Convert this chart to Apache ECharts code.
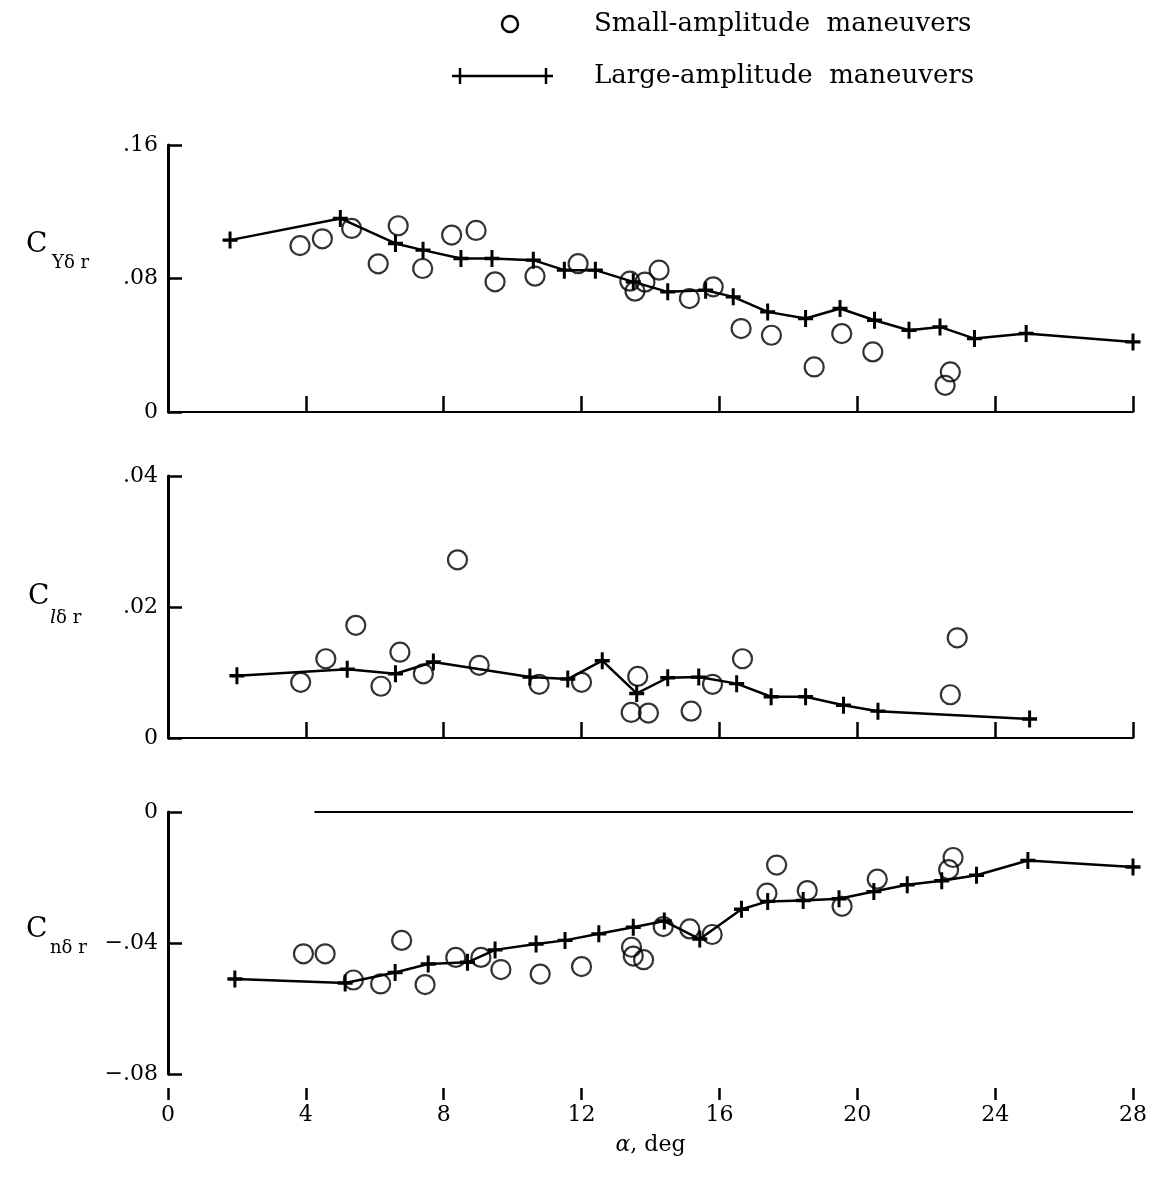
<!DOCTYPE html>
<html><head><meta charset="utf-8">
<script src="https://cdn.jsdelivr.net/npm/echarts@6/dist/echarts.min.js"></script>
<style>html,body{margin:0;padding:0;background:#fff}#c{width:1159px;height:1181px}</style>
</head><body><div id="c"></div>
<script>
// ---------- data ----------
const xTickLabels = ['0','4','8','12','16','20','24','28'];
const yTicksCY = ['0','.08','.16'];
const yTicksCl = ['0','.02','.04'];
const yTicksCn = ['\u2212.08','\u2212.04','0'];

// C_Y delta r
const cyLargeAlpha = [1.8,5.0,6.6,7.4,8.5,9.4,10.6,11.5,12.4,13.5,14.5,15.6,16.4,17.4,18.5,19.5,20.5,21.5,22.4,23.4,24.9,28.0];
const cyLargeVal   = [0.103,0.116,0.101,0.097,0.092,0.092,0.091,0.085,0.085,0.078,0.072,0.073,0.069,0.060,0.056,0.062,0.055,0.049,0.051,0.044,0.047,0.042];
const cySmallAlpha = [3.83,4.48,5.33,6.1,6.68,7.39,8.23,8.94,9.49,10.65,11.9,13.4,13.55,13.84,14.25,15.13,15.82,16.63,17.51,18.75,19.55,20.45,22.55,22.7];
const cySmallVal   = [0.0997,0.1038,0.110,0.0888,0.1116,0.086,0.106,0.1088,0.078,0.0814,0.0889,0.0784,0.0724,0.0778,0.085,0.068,0.075,0.050,0.046,0.027,0.047,0.036,0.016,0.024];

// C_l delta r
const clLargeAlpha = [2.0,5.2,6.6,7.7,10.5,11.6,12.6,13.6,14.5,15.4,16.5,17.5,18.5,19.6,20.6,25.0];
const clLargeVal   = [0.0095,0.0105,0.0098,0.0116,0.0093,0.0090,0.0118,0.0068,0.0092,0.0093,0.0083,0.0063,0.0063,0.0050,0.0041,0.0029];
const clSmallAlpha = [3.85,4.58,5.45,6.18,6.73,7.41,8.4,9.03,10.77,12.0,13.44,13.63,13.94,15.18,15.8,16.67,22.7,22.9];
const clSmallVal   = [0.0085,0.0121,0.0172,0.0079,0.0131,0.0098,0.0272,0.0111,0.0082,0.0085,0.0039,0.0094,0.0038,0.0041,0.0082,0.0121,0.0066,0.0153];

// C_n delta r
const cnLargeAlpha = [1.94,5.14,6.59,7.55,8.69,9.49,10.68,11.52,12.5,13.5,14.4,15.43,16.64,17.4,18.43,19.47,20.48,21.45,22.45,23.46,24.95,28.0];
const cnLargeVal   = [-0.051,-0.0522,-0.049,-0.0464,-0.0459,-0.0421,-0.0403,-0.0392,-0.0372,-0.0352,-0.0333,-0.0388,-0.0297,-0.0273,-0.0270,-0.0265,-0.0243,-0.0222,-0.0210,-0.0193,-0.0148,-0.0168];
const cnSmallAlpha = [3.93,4.56,5.38,6.17,6.78,7.46,8.35,9.08,9.66,10.8,12.0,13.45,13.5,13.8,14.37,15.14,15.79,17.38,17.66,18.55,19.56,20.58,22.65,22.78];
const cnSmallVal   = [-0.0433,-0.0433,-0.0513,-0.0525,-0.0392,-0.0527,-0.0444,-0.0444,-0.0481,-0.0495,-0.0472,-0.0413,-0.0440,-0.0451,-0.0350,-0.0357,-0.0374,-0.0248,-0.0162,-0.0240,-0.0288,-0.0205,-0.0176,-0.0139];

const zeroLineStart = 4.25;

// ---------- chart ----------
const FONT = 'DejaVu Serif';
const pair = (a, b) => a.map((x, i) => [x, b[i]]);
const crossPath = 'path://M4,0 H6 V4 H10 V6 H6 V10 H4 V6 H0 V4 H4 Z';

const gridDefs = [
  {left:168, right:26, top:145, height:267},
  {left:168, right:26, top:476, height:262},
  {left:168, right:26, top:812, height:262}
];
const yDefs = [
  {min:0, max:0.16, interval:0.08, labels:yTicksCY},
  {min:0, max:0.04, interval:0.02, labels:yTicksCl},
  {min:-0.08, max:0, interval:0.04, labels:yTicksCn}
];

const xAxes = gridDefs.map((g, i) => {
  const last = i === 2;
  return {
    type:'value', gridIndex:i, min:0, max:28, interval:4,
    position:'bottom',
    offset: last ? 14 : 0,
    axisLine:{show:!last, onZero:false, lineStyle:{color:'#000', width:2}},
    axisTick:{show:true, inside:!last, length:last ? 12 : 16, lineStyle:{color:'#000', width:2.5}},
    axisLabel:{show:last, margin:16, fontFamily:FONT, fontSize:22, color:'#000',
      formatter:(v) => xTickLabels[Math.round(v/4)]},
    splitLine:{show:false},
    name: last ? '{i|\u03b1}, deg' : '',
    nameLocation:'middle', nameGap:46,
    nameTextStyle:{fontFamily:FONT, fontSize:22, color:'#000', rich:{i:{fontStyle:'italic', fontFamily:FONT, fontSize:22}}}
  };
});
const yAxes = yDefs.map((d, i) => ({
  type:'value', gridIndex:i, min:d.min, max:d.max, interval:d.interval,
  axisLine:{show:true, onZero:false, lineStyle:{color:'#000', width:3}},
  axisTick:{show:true, inside:true, length:14, lineStyle:{color:'#000', width:2.5}},
  axisLabel:{margin:10, fontFamily:FONT, fontSize:22, color:'#000',
    formatter:(v) => d.labels[Math.round((v - d.min)/d.interval)]},
  splitLine:{show:false}
}));

function lineSeries(i, a, b) {
  return {type:'line', xAxisIndex:i, yAxisIndex:i, data:pair(a,b),
    symbol:crossPath, symbolSize:[15,17], showSymbol:true,
    lineStyle:{color:'#000', width:2.5}, itemStyle:{color:'#000'}, z:3, animation:false};
}
function scatterSeries(i, a, b) {
  return {type:'scatter', xAxisIndex:i, yAxisIndex:i, data:pair(a,b),
    symbol:'circle', symbolSize:19,
    itemStyle:{color:'rgba(0,0,0,0)', borderColor:'#000', borderWidth:2.2}, z:4, animation:false};
}

const series = [
  lineSeries(0, cyLargeAlpha, cyLargeVal), scatterSeries(0, cySmallAlpha, cySmallVal),
  lineSeries(1, clLargeAlpha, clLargeVal), scatterSeries(1, clSmallAlpha, clSmallVal),
  Object.assign(lineSeries(2, cnLargeAlpha, cnLargeVal), {
    markLine:{silent:true, symbol:'none', label:{show:false},
      lineStyle:{color:'#000', width:1.8, type:'solid'},
      data:[[{coord:[zeroLineStart,0]},{coord:[28,0]}]]}
  }),
  scatterSeries(2, cnSmallAlpha, cnSmallVal)
];

const txt = (x, y, text, size, extra) => ({type:'text', x, y,
  style:Object.assign({text, fontFamily:FONT, fontSize:size, fill:'#000', textVerticalAlign:'middle'}, extra||{})});

const graphic = [
  // legend
  {type:'circle', shape:{cx:510, cy:24, r:8}, style:{fill:'none', stroke:'#000', lineWidth:2.5}},
  {type:'line', shape:{x1:452, y1:76, x2:553, y2:76}, style:{stroke:'#000', lineWidth:2.5}},
  {type:'line', shape:{x1:460, y1:68, x2:460, y2:84}, style:{stroke:'#000', lineWidth:2.5}},
  {type:'line', shape:{x1:546, y1:68, x2:546, y2:84}, style:{stroke:'#000', lineWidth:2.5}},
  txt(594, 24, 'Small-amplitude  maneuvers', 26),
  txt(594, 76, 'Large-amplitude  maneuvers', 26),
  // y-axis names
  txt(26, 245, 'C', 28), txt(52, 263, 'Y\u03b4 r', 18),
  txt(28, 597, 'C', 28),
  {type:'text', x:50, y:618, style:{text:'{i|l}\u03b4 r', fontFamily:FONT, fontSize:18, fill:'#000', textVerticalAlign:'middle',
    rich:{i:{fontStyle:'italic', fontFamily:FONT, fontSize:19}}}},
  txt(26, 930, 'C', 28), txt(50, 948, 'n\u03b4 r', 18)
];

const chart = echarts.init(document.getElementById('c'), null, {renderer:'canvas'});
chart.setOption({
  backgroundColor:'#fff', animation:false,
  grid:gridDefs, xAxis:xAxes, yAxis:yAxes, series, graphic
});
</script></body></html>
